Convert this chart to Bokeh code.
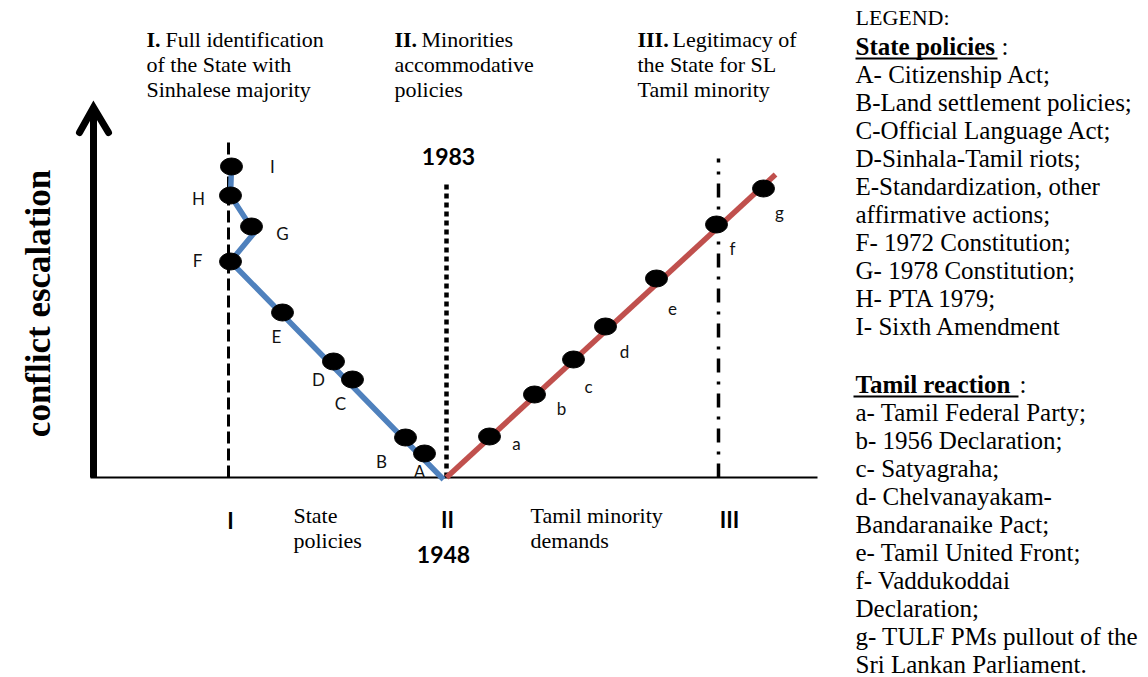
import math
from bokeh.plotting import figure
from bokeh.models import Range1d
from bokeh.core.properties import value
from bokeh.embed import file_html
from bokeh.resources import INLINE

# ---------------- data ----------------
# State policies (blue path) : points A..I  (x = position along the diagram, y = conflict escalation)
state_labels = ["A", "B", "C", "D", "E", "F", "G", "H", "I"]
state_x = [424, 405, 352, 333, 282, 230, 251, 230, 231]
state_y = [24, 40, 98, 116, 165, 216, 251, 282, 311]
state_path_x = [443, 230, 254, 230, 231]
state_path_y = [-2, 216, 245, 282, 311]

# Tamil reaction (red path) : points a..g
tamil_labels = ["a", "b", "c", "d", "e", "f", "g"]
tamil_x = [489, 534, 573, 605, 656, 716, 763]
tamil_y = [41, 83, 118, 151, 199, 253, 289]
tamil_path_x = [446, 775]
tamil_path_y = [0, 303]

# Phases (vertical reference lines)
phase_names = ["I", "II", "III"]
phase_x = [228, 446, 718]
phase_top = [335, 294, 319]
phase_year_bottom = "1948"
phase_year_top = "1983"

header_bold = ["I.", "II.", "III."]
header_lines = [
    ["Full identification", "of the State with", "Sinhalese majority"],
    ["Minorities", "accommodative", "policies"],
    ["Legitimacy of", "the State for SL", "Tamil minority"],
]
bottom_captions = [["State", "policies"], ["Tamil minority", "demands"]]
axis_title = "conflict escalation"

legend_title = "LEGEND:"
legend_state_title = "State policies"
legend_state_items = ["A- Citizenship Act;", "B-Land settlement policies;", "C-Official Language Act;",
                      "D-Sinhala-Tamil riots;", "E-Standardization, other", "affirmative actions;",
                      "F- 1972 Constitution;", "G- 1978 Constitution;", "H- PTA 1979;",
                      "I- Sixth Amendment"]
legend_tamil_title = "Tamil reaction"
legend_tamil_items = ["a- Tamil Federal Party;", "b- 1956 Declaration;", "c- Satyagraha;",
                      "d- Chelvanayakam-", "Bandaranaike Pact;", "e- Tamil United Front;",
                      "f- Vaddukoddai", "Declaration;", "g- TULF PMs pullout of the",
                      "Sri Lankan Parliament."]

# label placement (layout only)
state_dx = [-5, -24, -12, -15, -6, -33, 31, -32, 41]
state_dy = [-18, -24, -24, -18, -24, 1, -7, -3, 0]
tamil_dx = [27, 27, 15, 19, 16, 16, 16]
tamil_dy = [-7, -14, -27, -25, -30, -24, -24]

BLUE = "#4F81BD"
RED = "#C0504D"
SERIF = value("Liberation Serif")
SANS = value("Lato")

BASE = 477  # pixel row of the baseline in the page -> used to convert layout rows


def row(py):
    return BASE - py


p = figure(width=1148, height=677, x_range=Range1d(0, 1148), y_range=Range1d(row(677), row(0)),
           output_backend="svg", toolbar_location=None, x_axis_location=None, y_axis_location=None,
           min_border=0)
p.grid.visible = False
p.outline_line_color = None
p.background_fill_color = "white"
p.border_fill_color = "white"

# baseline
p.line([90, 817], [0, 0], line_color="black", line_width=2)

# vertical escalation arrow
p.line([93, 93], [0, row(108)], line_color="black", line_width=7)
p.line([79, 93, 108], [row(132), row(107), row(132)], line_color="black", line_width=7,
       line_cap="round", line_join="miter")

# phase lines
dashes = ["12 5", "5 4", "14 9 3 9"]
widths = [3, 4.5, 3.5]
for xx, top, d, w in zip(phase_x, phase_top, dashes, widths):
    p.line([xx, xx], [0, top], line_color="black", line_width=w, line_dash=d)

# paths
p.line(state_path_x, state_path_y, line_color=BLUE, line_width=5.5, line_join="miter")
p.line(tamil_path_x, tamil_path_y, line_color=RED, line_width=5.5)

# points
p.ellipse(state_x, state_y, width=22, height=17, fill_color="black", line_color="black")
p.ellipse(tamil_x, tamil_y, width=22, height=17, fill_color="black", line_color="black")

# point labels
p.text([x + d for x, d in zip(state_x, state_dx)], [y + d for y, d in zip(state_y, state_dy)],
       text=state_labels, text_font=SANS, text_font_size="17px", text_align="center",
       text_baseline="middle", text_color="#111111")
p.text([x + d for x, d in zip(tamil_x, tamil_dx)], [y + d for y, d in zip(tamil_y, tamil_dy)],
       text=tamil_labels, text_font=SANS, text_font_size="17px", text_align="center",
       text_baseline="middle", text_color="#111111")

# phase numerals + years
p.text([230, 447, 729], [row(520), row(519), row(519)], text=phase_names, text_font=SANS,
       text_font_style="bold", text_font_size="22px", text_align="center", text_baseline="middle")
p.text([443], [row(554)], text=[phase_year_bottom], text_font=SANS, text_font_style="bold",
       text_font_size="23px", text_align="center", text_baseline="middle")
p.text([448], [row(156)], text=[phase_year_top], text_font=SANS, text_font_style="bold",
       text_font_size="23px", text_align="center", text_baseline="middle")

# bottom captions
for x0, lines in zip([293, 530], bottom_captions):
    p.text([x0] * len(lines), [row(515), row(540)][:len(lines)], text=lines, text_font=SERIF,
           text_font_size="22px", text_align="left", text_baseline="middle")

# headers
bold_x = [146, 394, 637]
reg_x = [165, 421, 672]
hdr_rows = [row(39), row(64), row(89)]
for bx, rx, b, lines in zip(bold_x, reg_x, header_bold, header_lines):
    p.text([bx], [hdr_rows[0]], text=[b], text_font=SERIF, text_font_style="bold",
           text_font_size="22px", text_align="left", text_baseline="middle")
    p.text([rx], [hdr_rows[0]], text=[lines[0]], text_font=SERIF, text_font_size="22px",
           text_align="left", text_baseline="middle")
    p.text([bx, bx], hdr_rows[1:], text=lines[1:], text_font=SERIF, text_font_size="22px",
           text_align="left", text_baseline="middle")

# rotated axis title
p.text([38], [row(303)], text=[axis_title], angle=math.pi / 2, text_font=SERIF,
       text_font_style="bold", text_font_size="35px", text_align="center",
       text_baseline="alphabetic")

# legend
LX = 855
p.text([LX], [row(17)], text=[legend_title], text_font=SERIF, text_font_size="22px",
       text_align="left", text_baseline="middle")
p.text([LX], [row(46)], text=[legend_state_title], text_font=SERIF, text_font_style="bold",
       text_font_size="25px", text_align="left", text_baseline="middle")
p.text([1001], [row(46)], text=[":"], text_font=SERIF, text_font_size="25px",
       text_align="left", text_baseline="middle")
p.line([855, 997], [row(58), row(58)], line_color="black", line_width=2)
p.text([LX] * len(legend_state_items), [row(74 + 28 * i) for i in range(len(legend_state_items))],
       text=legend_state_items, text_font=SERIF, text_font_size="25px", text_align="left",
       text_baseline="middle")

p.text([LX], [row(384)], text=[legend_tamil_title], text_font=SERIF, text_font_style="bold",
       text_font_size="25px", text_align="left", text_baseline="middle")
p.text([1019], [row(384)], text=[":"], text_font=SERIF, text_font_size="25px",
       text_align="left", text_baseline="middle")
p.line([853, 1018], [row(396), row(396)], line_color="black", line_width=2)
p.text([LX] * len(legend_tamil_items), [row(412 + 28 * i) for i in range(len(legend_tamil_items))],
       text=legend_tamil_items, text_font=SERIF, text_font_size="25px", text_align="left",
       text_baseline="middle")

open("out.html", "w").write(file_html(p, INLINE))
